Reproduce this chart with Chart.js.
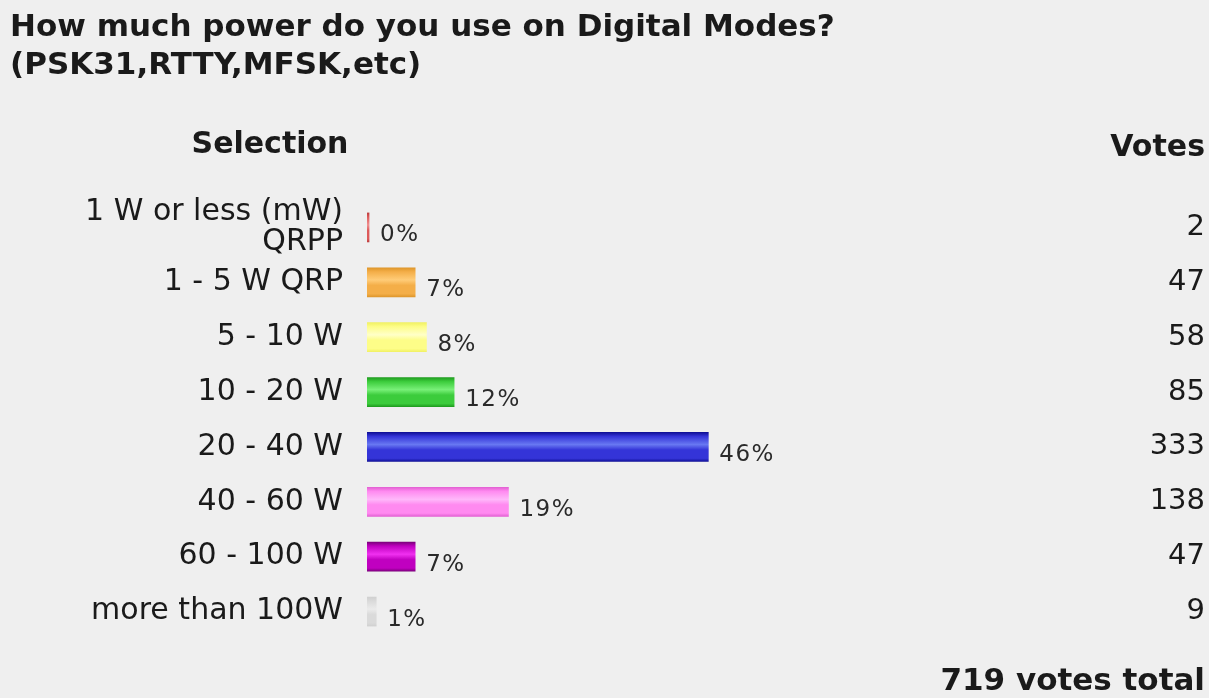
<!DOCTYPE html>
<html>
<head>
<meta charset="utf-8">
<script src="https://cdn.jsdelivr.net/npm/chart.js@4.4.1/dist/chart.umd.min.js"></script>
<style>
  html, body { margin: 0; padding: 0; background: #efefef; }
  #wrap { position: relative; width: 1209px; height: 698px; }
</style>
</head>
<body>
<div id="wrap"><canvas id="c"></canvas></div>
<script>
// ---- data ----
const titleLines = ['How much power do you use on Digital Modes?', '(PSK31,RTTY,MFSK,etc)'];
const categories = [['1 W or less (mW)', 'QRPP'], '1 - 5 W QRP', '5 - 10 W', '10 - 20 W', '20 - 40 W', '40 - 60 W', '60 - 100 W', 'more than 100W'];
const votes = [2, 47, 58, 85, 333, 138, 47, 9];
const percentLabels = ['0%', '7%', '8%', '12%', '46%', '19%', '7%', '1%'];
const totalVotes = 719;
const headerSelection = 'Selection';
const headerVotes = 'Votes';
const totalLabel = totalVotes + ' votes total';

// ---- styles (kept separate from data) ----
const barStyles = [
  ['#b83838', '#f09090', '#dd5a5a'],
  ['#dc9428', '#ffcc78', '#f4ae48'],
  ['#f0f060', '#ffffc8', '#fdfd88'],
  ['#1c981c', '#78f078', '#3ccc3c'],
  ['#0c0c90', '#6878f2', '#3434d8'],
  ['#e05cd0', '#ffb8fa', '#ff8af0'],
  ['#760076', '#f030f0', '#c000c0'],
  ['#cfcfcf', '#ebebeb', '#dadada']
];
const FONT = "'DejaVu Sans', Verdana, sans-serif";
const TEXT = '#1a1a1a';

function barFill(ctx) {
  const st = barStyles[ctx.dataIndex] || barStyles[0];
  const chart = ctx.chart;
  const ys = chart.scales && chart.scales.y;
  if (!ys || ctx.type !== 'data' || !chart.chartArea) return st[2];
  const yc = ys.getPixelForValue(ctx.dataIndex);
  const h = 15;
  const g = chart.ctx.createLinearGradient(0, yc - h, 0, yc + h);
  g.addColorStop(0, st[0]);
  g.addColorStop(0.15, st[2]);
  g.addColorStop(0.42, st[1]);
  g.addColorStop(0.6, st[2]);
  g.addColorStop(0.88, st[2]);
  g.addColorStop(1, st[0]);
  return g;
}

const bgPlugin = {
  id: 'bg',
  beforeDraw(chart) {
    const c = chart.ctx;
    c.save();
    c.fillStyle = '#efefef';
    c.fillRect(0, 0, chart.width, chart.height);
    c.restore();
  }
};

const tablePlugin = {
  id: 'pollTable',
  afterDatasetsDraw(chart) {
    const c = chart.ctx;
    const meta = chart.getDatasetMeta(0);
    const right = chart.width - 4;
    c.save();
    c.fillStyle = TEXT;

    // headers
    c.font = 'bold 30px ' + FONT;
    c.textBaseline = 'alphabetic';
    c.textAlign = 'center';
    c.fillText(headerSelection, 270, 153);
    c.textAlign = 'right';
    c.fillText(headerVotes, right, 156);

    // percent labels after each bar & vote counts in right column
    meta.data.forEach((bar, i) => {
      c.textAlign = 'left';
      c.textBaseline = 'alphabetic';
      c.font = '23px ' + FONT;
      c.letterSpacing = '1.5px';
      c.fillStyle = '#2a2a2a';
      c.fillText(percentLabels[i], bar.x + 11, bar.y + 14);
      c.letterSpacing = '0px';

      c.font = '29px ' + FONT;
      c.fillStyle = TEXT;
      c.textAlign = 'right';
      c.textBaseline = 'middle';
      c.fillText(String(votes[i]), right, bar.y);
    });

    // total
    c.font = 'bold 31px ' + FONT;
    c.textAlign = 'right';
    c.textBaseline = 'alphabetic';
    c.fillStyle = TEXT;
    c.fillText(totalLabel, right, 690);
    c.restore();
  }
};

new Chart(document.getElementById('c'), {
  type: 'bar',
  data: {
    labels: categories,
    datasets: [{
      label: 'Votes',
      data: votes,
      backgroundColor: barFill,
      borderWidth: 0,
      barThickness: 29
    }]
  },
  options: {
    indexAxis: 'y',
    responsive: true,
    maintainAspectRatio: false,
    animation: false,
    events: [],
    layout: { padding: { left: 10, right: 105, top: 0, bottom: 59 } },
    plugins: {
      legend: { display: false },
      tooltip: { enabled: false },
      title: {
        display: true,
        text: titleLines,
        align: 'start',
        color: TEXT,
        font: { family: FONT, size: 31, weight: 'bold', lineHeight: 38 / 31 },
        padding: { top: 9, bottom: 115 }
      }
    },
    scales: {
      x: {
        display: false,
        min: 0,
        max: totalVotes
      },
      y: {
        grid: { display: false },
        border: { display: false },
        ticks: {
          color: TEXT,
          padding: 16,
          autoSkip: false,
          font: { family: FONT, size: 30, lineHeight: 1.0 }
        },
        afterFit(scale) { scale.width = 357; }
      }
    }
  },
  plugins: [bgPlugin, tablePlugin]
});
</script>
</body>
</html>
